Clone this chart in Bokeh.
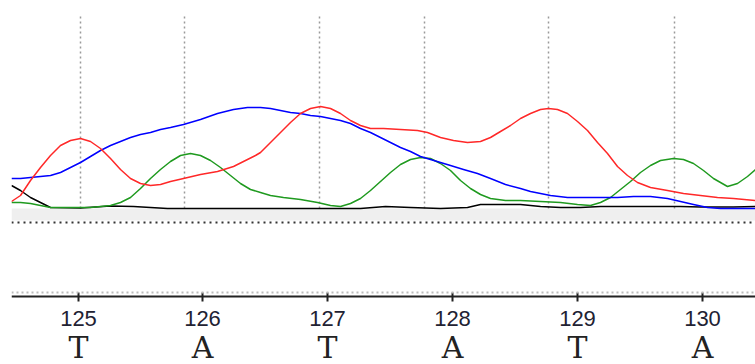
from bokeh.plotting import figure
from bokeh.models import Range1d, FixedTicker, LinearAxis, Span, BoxAnnotation
from bokeh.embed import file_html
from bokeh.resources import INLINE

# --- data (x in scan units, y in signal units above baseline) ---
base_scans = [78, 202, 327, 452, 577, 702]
base_numbers = ["125", "126", "127", "128", "129", "130"]
base_calls = ["T", "A", "T", "A", "T", "A"]
peak_scans = [80, 184, 319, 424, 548, 674]

red_x = [11, 20, 30, 40, 50, 60, 70, 80, 90, 100, 110, 120, 130, 140, 150, 160, 170, 183, 200, 217,
         233, 247, 255, 260, 270, 280, 290, 300, 310, 320, 330, 340, 350, 360, 370, 383, 400, 417,
         427, 440, 453, 467, 480, 490, 500, 510, 520, 530, 540, 548, 557, 567, 577, 587, 597, 607,
         617, 627, 637, 650, 667, 683, 700, 717, 733, 755]
red_y = [7, 13, 28, 41, 53, 63, 68, 70, 67, 60, 50, 39, 30, 25, 23, 24, 27, 30, 34, 37,
         42, 49, 53, 56, 66, 76, 86, 95, 100, 102, 100, 95, 88, 83, 80, 80, 79, 78,
         76, 71, 68, 66, 67, 71, 77, 83, 90, 95, 99, 100, 99, 95, 87, 78, 66, 55,
         42, 33, 26, 21, 18, 15, 13, 11, 10, 8]

blue_x = [11, 20, 30, 40, 50, 60, 70, 80, 90, 100, 110, 120, 130, 140, 150, 160, 170, 183, 200, 217,
          233, 247, 260, 270, 280, 290, 300, 310, 320, 330, 340, 350, 360, 370, 380, 390, 400, 410,
          420, 430, 440, 450, 463, 477, 490, 505, 520, 530, 540, 550, 567, 583, 600, 617, 633, 650,
          667, 680, 693, 707, 720, 755]
blue_y = [30, 30, 31, 32, 33, 36, 41, 46, 52, 58, 63, 67, 71, 74, 76, 79, 81, 84, 89, 95,
          99, 101, 101, 100, 98, 96, 95, 93, 92, 90, 88, 85, 80, 76, 71, 66, 61, 57,
          52, 49, 46, 43, 39, 35, 30, 24, 20, 17, 15, 13, 11, 11, 11, 11, 12, 12,
          10, 7, 4, 1, 0, 0]

green_x = [11, 20, 30, 40, 50, 70, 90, 110, 120, 130, 140, 150, 160, 170, 180, 190, 200, 210, 220, 230,
           240, 250, 260, 270, 283, 300, 317, 330, 340, 350, 360, 370, 380, 390, 400, 410, 420, 430,
           440, 450, 460, 470, 480, 490, 505, 520, 540, 560, 577, 590, 600, 610, 620, 630, 640, 650,
           660, 673, 683, 693, 703, 713, 727, 737, 747, 755]
green_y = [6, 6, 5, 3, 1, 1, 1, 3, 6, 11, 20, 30, 39, 47, 53, 55, 53, 48, 41, 33,
           25, 19, 16, 13, 11, 9, 6, 3, 2, 5, 10, 18, 27, 36, 44, 49, 51, 50,
           45, 38, 28, 20, 14, 10, 8, 8, 7, 6, 4, 3, 6, 11, 19, 27, 36, 43,
           48, 50, 49, 45, 38, 30, 22, 25, 32, 39]

black_x = [11, 20, 30, 40, 50, 80, 110, 133, 150, 167, 200, 300, 360, 385, 410, 440, 467, 480, 500, 520,
           540, 560, 580, 600, 620, 650, 680, 700, 733, 755]
black_y = [23, 18, 11, 6, 1, 0.5, 2.5, 2, 1, 0, 0, 0, 0, 2, 1, 0, 1, 4, 4, 4,
           2, 1, 1, 2, 2, 2, 2, 1.5, 1.5, 2]

AXIS_Y = -88  # signal level at which the position axis is drawn

# --- figure ---
p = figure(width=755, height=364, output_backend="svg", toolbar_location=None,
           x_range=Range1d(11, 755), y_range=Range1d(-156, 208),
           y_axis_location=None, min_border_left=11, min_border_right=0,
           min_border_top=0, min_border_bottom=0)
p.outline_line_color = None
p.xgrid.visible = False
p.ygrid.visible = False
p.background_fill_color = "white"
p.border_fill_color = "white"

# baseline band
p.add_layout(BoxAnnotation(bottom=-12, top=0, fill_color="#efefef", fill_alpha=1.0, line_color=None, level="underlay"))
p.add_layout(Span(location=-14, dimension="width", line_color="#333333", line_width=2, line_dash="2 4"))
p.add_layout(Span(location=AXIS_Y + 4, dimension="width", line_color="#bbbbbb", line_width=2, line_dash="2 3"))

# peak call gridlines
p.segment(x0=peak_scans, y0=[0] * len(peak_scans), x1=peak_scans, y1=[195] * len(peak_scans),
          line_color="#9a9a9a", line_width=1.5, line_dash="2 3")

# traces
p.line(black_x, black_y, line_color="#000000", line_width=1.5, line_join="round")
p.line(green_x, green_y, line_color="#1f9a1f", line_width=1.5, line_join="round")
p.line(blue_x, blue_y, line_color="#0000ff", line_width=1.5, line_join="round")
p.line(red_x, red_y, line_color="#ff2828", line_width=1.5, line_join="round")

# position axis
ax = p.xaxis[0]
ax.fixed_location = AXIS_Y
ax.ticker = FixedTicker(ticks=base_scans)
ax.major_label_overrides = {s: n for s, n in zip(base_scans, base_numbers)}
ax.minor_tick_line_color = None
ax.axis_line_color = "#222222"
ax.axis_line_width = 2
ax.major_tick_line_color = "#222222"
ax.major_tick_line_width = 2
ax.major_tick_in = 4
ax.major_tick_out = 5
ax.major_label_standoff = 9
ax.major_label_text_font = "Liberation Sans"
ax.major_label_text_font_size = "22px"
ax.major_label_text_color = "#222233"

# base call axis
ax2 = LinearAxis(ticker=FixedTicker(ticks=base_scans), fixed_location=AXIS_Y)
ax2.major_label_overrides = {s: b for s, b in zip(base_scans, base_calls)}
ax2.axis_line_color = None
ax2.major_tick_line_color = None
ax2.minor_tick_line_color = None
ax2.major_tick_in = 0
ax2.major_tick_out = 0
ax2.major_label_standoff = 33
ax2.major_label_text_font = "DejaVu Serif"
ax2.major_label_text_font_size = "30px"
ax2.major_label_text_color = "#222222"
p.add_layout(ax2, "below")

open("out.html", "w").write(file_html(p, INLINE))
